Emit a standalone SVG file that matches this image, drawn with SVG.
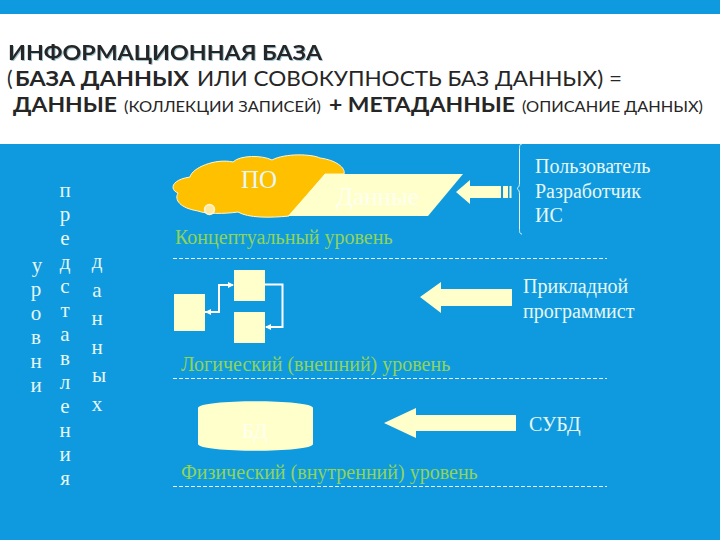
<svg xmlns="http://www.w3.org/2000/svg" width="720" height="540" viewBox="0 0 720 540">
<style>
.t{font-family:"Lato","Liberation Sans",sans-serif;fill:#262626}
.b{font-weight:700}
.s{font-family:"Liberation Serif",serif;font-size:20px}
.w{fill:#e6f7f5}
.g{fill:#8fd45a}
.c{font-family:"Liberation Serif",serif;font-size:21px;fill:#e6f7f5;text-anchor:middle}
.f{fill:#ffffcc}
.d{stroke:#e8f6fa;stroke-width:1;stroke-dasharray:4 2;fill:none}
.l{stroke:#fff;stroke-width:2;fill:none}
.sh{filter:drop-shadow(1px 1px 0 #9fc4d4)}
</style>
<defs>
<marker id="m" markerWidth="6" markerHeight="6" refX="5" refY="3" orient="auto" markerUnits="userSpaceOnUse"><path d="M0 0L6 3L0 6Z" fill="#fff"/></marker>
</defs>
<rect width="720" height="540" fill="#0f9adf"/>
<rect y="14" width="720" height="130" fill="#fff"/>
<g id="title">
<text class="t b sh" x="8" y="60" font-size="21" textLength="314" lengthAdjust="spacingAndGlyphs">ИНФОРМАЦИОННАЯ БАЗА</text>
<text class="t" x="7" y="86" font-size="21">(</text>
<text class="t b" x="15" y="86" font-size="21" textLength="174" lengthAdjust="spacingAndGlyphs">БАЗА ДАННЫХ</text>
<text class="t" x="197" y="86" font-size="21" textLength="425" lengthAdjust="spacingAndGlyphs">ИЛИ СОВОКУПНОСТЬ БАЗ ДАННЫХ) =</text>
<text class="t b" x="13" y="112" font-size="21" textLength="104" lengthAdjust="spacingAndGlyphs">ДАННЫЕ</text>
<text class="t" x="124" y="112" font-size="16" textLength="197" lengthAdjust="spacingAndGlyphs">(КОЛЛЕКЦИИ ЗАПИСЕЙ)</text>
<text class="t b" x="329" y="112" font-size="21" textLength="186" lengthAdjust="spacingAndGlyphs">+ МЕТАДАННЫЕ</text>
<text class="t" x="522" y="112" font-size="16" textLength="181" lengthAdjust="spacingAndGlyphs">(ОПИСАНИЕ ДАННЫХ)</text>
</g>
<g id="axis-levels">
<text class="c" x="37" y="272">у</text><text class="c" x="36" y="296">р</text><text class="c" x="36" y="320">о</text><text class="c" x="36" y="344">в</text><text class="c" x="36" y="368">н</text><text class="c" x="36" y="392">и</text>
</g>
<g id="axis-views">
<text class="c" x="65" y="197">п</text><text class="c" x="65" y="221">р</text><text class="c" x="65" y="245">е</text><text class="c" x="65" y="269">д</text><text class="c" x="65" y="293">с</text><text class="c" x="65" y="317">т</text><text class="c" x="65" y="341">а</text><text class="c" x="65" y="365">в</text><text class="c" x="65" y="389">л</text><text class="c" x="65" y="413">е</text><text class="c" x="65" y="437">н</text><text class="c" x="65" y="461">и</text><text class="c" x="65" y="485">я</text>
</g>
<g id="axis-data">
<text class="c" x="97" y="268">д</text><text class="c" x="97" y="297">а</text><text class="c" x="97" y="325">н</text><text class="c" x="97" y="354">н</text><text class="c" x="99" y="382">ы</text><text class="c" x="97" y="411">х</text>
</g>
<g id="cloud">
<path d="M190 177C192 168 215 158 233 162C240 155 262 155 272 160C285 153 312 154 320 158C336 160 346 168 344 174L325 174L296 208L289 216C270 218 248 218 238 212C225 214 205 214 198 211C180 208 174 200 178 193C170 190 170 180 190 177Z" fill="#ffc000" stroke="#fff6d0" stroke-width="1"/>
<circle cx="209.500" cy="209.500" r="5" fill="#ffe9a0" stroke="#fff6d0" stroke-width="1.500"/>
<text class="s w" x="241" y="188" style="font-size:25px">ПО</text>
</g>
<g id="data">
<path class="f" d="M325 174H463L428 216H288Z"/>
<text class="s" x="336" y="205" style="font-size:25px;fill:#fffff0">Данные</text>
</g>
<g id="box-a"><rect class="f" x="174" y="294" width="31" height="37"/></g>
<g id="box-b"><rect class="f" x="234" y="270" width="31" height="31"/></g>
<g id="box-c"><rect class="f" x="234" y="312" width="31" height="31"/></g>
<g id="db">
<path class="f" d="M198 408C198 399 313 399 313 408V444C313 453 198 453 198 444Z"/>
<text class="s" x="242" y="438" style="fill:#fffff0;font-size:21px">БД</text>
</g>
<g id="connectors">
<path class="l" d="M265 284.500H282.500V327H266" marker-end="url(#m)"/>
<path class="l" d="M220 312H205M219 312V285H233" marker-end="url(#m)"/>
<path d="M205 312L211 309V315Z" fill="#fff"/>
<path class="f" d="M456 192L470 180V186H501V198H470V204Z"/>
<path class="f" d="M503 186H508V198H503ZM509.500 186H511.500V198H509.500Z"/>
<path d="M522 144C519.500 144 519.500 146 519.500 150V182C519.500 186 519 187 517 188.500C519 190 519.500 191 519.500 195V228C519.500 232 519.500 234 522 234" fill="none" stroke="#e6f7f5" stroke-width="1"/>
<path class="f" d="M420 297L441 282V289H512V306H441V313Z"/>
<path class="f" d="M384 423L416 408V415H516V431H416V438Z"/>
<path class="d" d="M173 258.500H607M173 378.500H607M173 486.500H607"/>
</g>
<g id="labels">
<text class="s g" x="175" y="244">Концептуальный уровень</text>
<text class="s g" x="181" y="371">Логический (внешний) уровень</text>
<text class="s g" x="181" y="479">Физический (внутренний) уровень</text>
<text class="s w" x="535" y="173">Пользователь</text>
<text class="s w" x="535" y="198">Разработчик</text>
<text class="s w" x="535" y="222">ИС</text>
<text class="s w" x="523" y="293">Прикладной</text>
<text class="s w" x="523" y="318">программист</text>
<text class="s w" x="529" y="431">СУБД</text>
</g>
</svg>
